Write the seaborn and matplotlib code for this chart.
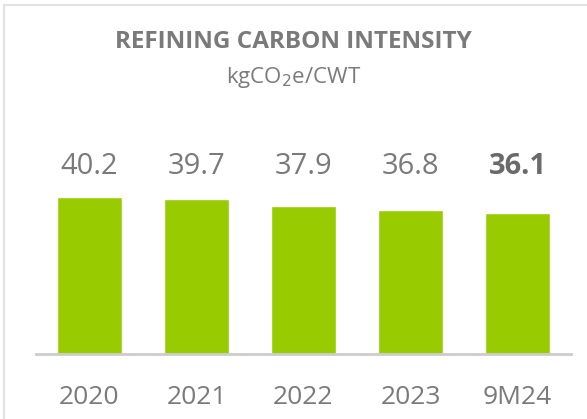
import matplotlib
matplotlib.use('Agg')
import matplotlib.pyplot as plt
import seaborn as sns
from matplotlib.lines import Line2D

# data
years = ['2020', '2021', '2022', '2023', '9M24']
intensity = [40.2, 39.7, 37.9, 36.8, 36.1]
value_labels = ['40.2', '39.7', '37.9', '36.8', '36.1']

sns.set_style('white')
plt.rcParams['font.family'] = ['Open Sans', 'DejaVu Sans']

GREEN = '#99cc00'
GREY = '#7a7a7a'

fig = plt.figure(figsize=(5.87, 4.19), dpi=100)
ax = fig.add_axes([36 / 587, 65 / 419, 535 / 587, 195 / 419])

sns.barplot(x=years, y=intensity, color=GREEN, width=0.61, saturation=1, ax=ax)
ax.set_xlim(-0.5, 4.5)
ax.set_ylim(0, 50)

# value labels sit on one line above the bars
for i, lab in enumerate(value_labels):
    bold = i == len(value_labels) - 1
    ax.text(i, 48.2, lab, ha='center', va='center', fontsize=21,
            color='#6a6a6a' if bold else GREY,
            fontweight='bold' if bold else 'normal')

for s in ['top', 'left', 'right']:
    ax.spines[s].set_visible(False)
ax.spines['bottom'].set_color('#cccccc')
ax.spines['bottom'].set_linewidth(2)
ax.set_yticks([])
ax.tick_params(axis='x', length=0, pad=22, labelsize=19, labelcolor=GREY)
ax.set_xlabel('')
ax.set_ylabel('')

# title block
fig.text(0.5, 1 - 42 / 419, 'REFINING CARBON INTENSITY', ha='center', va='center',
         fontsize=17.5, fontweight='bold', color=GREY)
fig.text(0.5, 1 - 77 / 419, 'kgCO$_2$e/CWT', ha='center', va='center',
         fontsize=16, color=GREY)

# light frame on top and left edges
fig.add_artist(Line2D([4 / 587, 1], [1 - 5 / 419, 1 - 5 / 419], color='#e2e2e2', lw=1.5))
fig.add_artist(Line2D([4 / 587, 4 / 587], [0, 1 - 5 / 419], color='#e2e2e2', lw=1.5))

fig.savefig('out.png', dpi=100)
